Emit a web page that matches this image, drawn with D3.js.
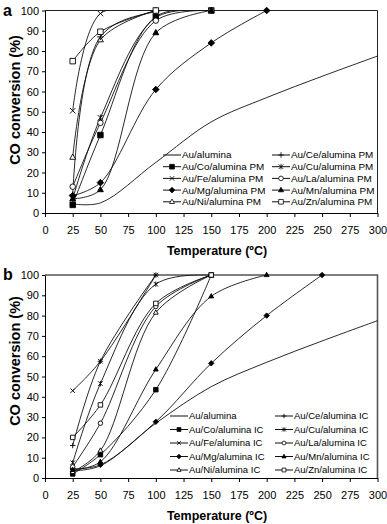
<!DOCTYPE html>
<html>
<head>
<meta charset="utf-8">
<script src="https://cdn.jsdelivr.net/npm/d3@7/dist/d3.min.js"></script>
<style>
  body { margin: 0; background: #fff; }
  svg { display: block; font-family: "Liberation Sans", Arial, sans-serif; }
</style>
</head>
<body>
<svg id="chart" width="387" height="524"></svg>
<script>
// temperatures (ºC) at which conversion was measured
var temps = [25, 50, 100, 150, 200, 250, 300];
var xTicks = [0, 25, 50, 75, 100, 125, 150, 175, 200, 225, 250, 275, 300];
var yTicks = [0, 10, 20, 30, 40, 50, 60, 70, 80, 90, 100];

// legend order: left column then right column
var catalysts = ["Au/alumina", "Au/Co/alumina", "Au/Fe/alumina", "Au/Mg/alumina", "Au/Ni/alumina",
                 "Au/Ce/alumina", "Au/Cu/alumina", "Au/La/alumina", "Au/Mn/alumina", "Au/Zn/alumina"];
var markers = ["none", "square", "x", "diamond", "triangleOpen",
               "plus", "asterisk", "circleOpen", "triangle", "squareOpen"];

// panel a : PM catalysts (values follow temps, series stop at their last point)
var pmAlumina = [4.5, 5, 25, 45, 57, 67.5, 77.5];
var pmCo = [4, 38.5, 97, 100];
var pmFe = [50.5, 98.5, 100];
var pmMg = [8.5, 15, 61, 84, 100];
var pmNi = [27.5, 85.5, 100];
var pmCe = [9, 87, 99.5, 100];
var pmCu = [7, 47, 96.5, 100];
var pmLa = [13, 44.5, 95, 100];
var pmMn = [7, 11.5, 89, 100];
var pmZn = [75, 89.5, 100];

// panel b : IC catalysts
var icAlumina = [3.5, 6, 27, 45, 57, 67.5, 77.5];
var icCo = [2, 11.5, 43.5, 100];
var icFe = [43, 57.5, 100];
var icMg = [4.5, 6.5, 27.7, 56.5, 80, 100];
var icNi = [3, 13.5, 81.5, 100];
var icCe = [16, 57.5, 100];
var icCu = [7.5, 46.5, 95.5, 100];
var icLa = [5.5, 27, 84.5, 100];
var icMn = [4, 8, 53.5, 89.5, 100];
var icZn = [20, 36, 86, 100];

var panels = [
  {letter: "a", suffix: " PM", top: 10.5, bottom: 213, ms: 5.5,
   values: [pmAlumina, pmCo, pmFe, pmMg, pmNi, pmCe, pmCu, pmLa, pmMn, pmZn],
   legY: 155, legStep: 11.7, legX: [163, 272], legFont: 9.9, yTitleCy: 100, xTitleY: 255},
  {letter: "b", suffix: " IC", top: 275, bottom: 478, ms: 4.5,
   values: [icAlumina, icCo, icFe, icMg, icNi, icCe, icCu, icLa, icMn, icZn],
   legY: 416, legStep: 13.5, legX: [170, 275], legFont: 9.5, yTitleCy: 361, xTitleY: 520}
];

var svg = d3.select("#chart");
var left = 45, right = 377.5;

var x = d3.scaleLinear().domain([0, 300]).range([left, right]);

function markerPath(type, s) {
  var r = s / 2;
  switch (type) {
    case "square": case "squareOpen":
      return "M" + (-r) + "," + (-r) + "h" + s + "v" + s + "h" + (-s) + "Z";
    case "diamond":
      r = r * 1.2;
      return "M0," + (-r) + "L" + r + ",0L0," + r + "L" + (-r) + ",0Z";
    case "triangle": case "triangleOpen":
      r = r * 1.2;
      return "M0," + (-r) + "L" + (r * 0.9) + "," + (r * 0.6) + "L" + (-r * 0.9) + "," + (r * 0.6) + "Z";
    case "x":
      return "M" + (-r) + "," + (-r) + "L" + r + "," + r + "M" + (-r) + "," + r + "L" + r + "," + (-r);
    case "plus":
      r = r * 1.2;
      return "M" + (-r) + ",0H" + r + "M0," + (-r) + "V" + r;
    case "asterisk":
      return "M" + (-r) + "," + (-r) + "L" + r + "," + r + "M" + (-r) + "," + r + "L" + r + "," + (-r) +
             "M0," + (-r * 1.2) + "V" + (r * 1.2);
    case "circleOpen":
      return "M" + r + ",0A" + r + "," + r + " 0 1 1 " + (-r) + ",0A" + r + "," + r + " 0 1 1 " + r + ",0";
  }
  return "";
}
function markerFill(type) {
  if (type == "square" || type == "diamond" || type == "triangle") return "#000";
  if (type == "squareOpen" || type == "triangleOpen" || type == "circleOpen") return "#fff";
  return "none";
}

panels.forEach(function(p, pi) {
  var y = d3.scaleLinear().domain([0, 100]).range([p.bottom, p.top]);
  var g = svg.append("g");

  g.append("clipPath").attr("id", "clip" + pi)
    .append("rect").attr("x", left).attr("y", p.top - 0.5)
    .attr("width", right - left + 1).attr("height", p.bottom - p.top + 1);

  // frame (top + right)
  g.append("path")
    .attr("d", "M" + left + "," + y(100) + "H" + right + "V" + y(0))
    .attr("fill", "none").attr("stroke", pi == 0 ? "#222" : "#555")
    .attr("stroke-width", pi == 0 ? 1 : 1.6);

  var series = catalysts.map(function(c, i) {
    return {name: c, marker: markers[i],
            pts: p.values[i].map(function(v, j) { return [temps[j], v]; })};
  });

  var line = d3.line()
    .x(function(d) { return x(d[0]); })
    .y(function(d) { return y(d[1]); })
    .curve(d3.curveCatmullRom.alpha(0.5));

  var plot = g.append("g").attr("clip-path", "url(#clip" + pi + ")");
  plot.selectAll("path.line").data(series).enter().append("path")
    .attr("class", "line")
    .attr("d", function(d) { return line(d.pts); })
    .attr("fill", "none").attr("stroke", "#111").attr("stroke-width", 0.9);

  series.forEach(function(s) {
    if (s.marker == "none") return;
    g.selectAll(null).data(s.pts).enter().append("path")
      .attr("transform", function(d) { return "translate(" + x(d[0]) + "," + y(d[1]) + ")"; })
      .attr("d", markerPath(s.marker, p.ms))
      .attr("fill", markerFill(s.marker))
      .attr("stroke", "#000").attr("stroke-width", 0.9);
  });

  // axes
  var yAxis = g.append("g").attr("transform", "translate(" + left + ",0)")
    .call(d3.axisLeft(y).tickValues(yTicks).tickSize(3).tickSizeOuter(0).tickPadding(3));
  var xAxis = g.append("g").attr("transform", "translate(0," + p.bottom + ")")
    .call(d3.axisBottom(x).tickValues(xTicks).tickSize(4).tickSizeOuter(0).tickPadding(9));
  [yAxis, xAxis].forEach(function(a) {
    a.selectAll("path, line").attr("stroke", "#000").attr("stroke-width", 1);
    a.selectAll("text").attr("font-size", 11).attr("fill", "#000")
      .attr("font-family", "'Liberation Sans', Arial, sans-serif");
  });

  // titles
  g.append("text")
    .attr("transform", "translate(15," + p.yTitleCy + ") rotate(-90)")
    .attr("text-anchor", "middle").attr("dy", "0.35em")
    .attr("font-size", 14.5).attr("font-weight", "bold")
    .text("CO conversion (%)");
  g.append("text")
    .attr("x", 217).attr("y", p.xTitleY)
    .attr("text-anchor", "middle")
    .attr("font-size", 12.5).attr("font-weight", "bold")
    .text("Temperature (ºC)");
  g.append("text")
    .attr("x", 3).attr("y", p.top + 5)
    .attr("font-size", 16).attr("font-weight", "bold")
    .text(p.letter);

  // legend, two columns of five
  series.forEach(function(s, i) {
    var col = Math.floor(i / 5), row = i % 5;
    var lx = p.legX[col], ly = p.legY + row * p.legStep;
    var lg = g.append("g").attr("transform", "translate(" + lx + "," + ly + ")");
    lg.append("line").attr("x1", 0).attr("x2", 18).attr("y1", 0).attr("y2", 0)
      .attr("stroke", "#111").attr("stroke-width", 1);
    if (s.marker != "none") {
      lg.append("path").attr("transform", "translate(9,0)")
        .attr("d", markerPath(s.marker, p.ms * 0.85))
        .attr("fill", markerFill(s.marker))
        .attr("stroke", "#000").attr("stroke-width", 0.8);
    }
    lg.append("text").attr("x", 19).attr("dy", "0.35em")
      .attr("font-size", p.legFont)
      .text(s.name + (i == 0 ? "" : p.suffix));
  });
});
</script>
</body>
</html>
